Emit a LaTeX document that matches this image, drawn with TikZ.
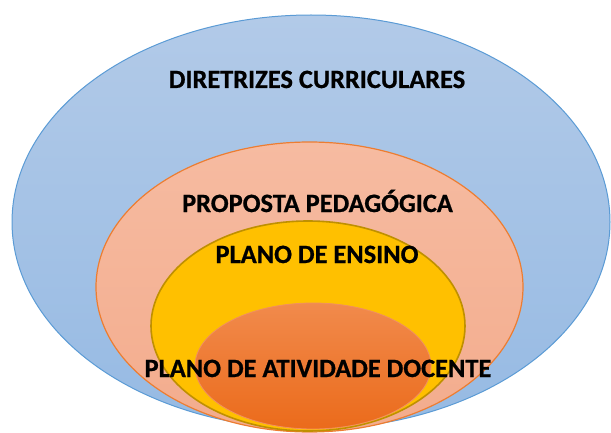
\documentclass[tikz,border=0pt]{standalone}
\usepackage{fontspec}
\setmainfont{Carlito}[BoldFeatures={FakeBold=0.8}]
\definecolor{outerTop}{HTML}{B2CAE8}
\definecolor{outerBot}{HTML}{96BAE3}
\definecolor{outerLine}{HTML}{5B9BD5}
\definecolor{salTop}{HTML}{F6BBA1}
\definecolor{salBot}{HTML}{F3AC8D}
\definecolor{salLine}{HTML}{ED7D31}
\definecolor{yelFill}{HTML}{FFC000}
\definecolor{yelLine}{HTML}{BF9000}
\definecolor{oraTop}{HTML}{F18A4C}
\definecolor{oraBot}{HTML}{EB6B1B}
\definecolor{oraLine}{HTML}{F19060}
\begin{document}
\begin{tikzpicture}[x=1pt,y=1pt,
  lbl/.style={anchor=base, inner sep=0pt, font=\bfseries\fontsize{26.4}{30}\selectfont, text=black}]
\useasboundingbox (0,0) rectangle (611,432);
\clip (0,0) rectangle (611,432);
\shade[top color=outerTop, bottom color=outerBot, draw=outerLine, line width=1pt]
  (311,210) ellipse [x radius=299, y radius=207];
\shade[top color=salTop, bottom color=salBot, draw=salLine, line width=1.2pt]
  (309.5,145) ellipse [x radius=213.5, y radius=145];
\filldraw[fill=yelFill, draw=yelLine, line width=1.6pt]
  (308,106) ellipse [x radius=157, y radius=105];
\shade[top color=oraTop, bottom color=oraBot, draw=oraLine, line width=0.8pt]
  (313,66) ellipse [x radius=118, y radius=63];
\node[lbl] (dir) at (317,344) {DIRETRIZES CURRICULARES};
\node[lbl] (prop) at (317.5,220) {PROPOSTA PEDAGÓGICA};
\node[lbl] (ens) at (317,169) {PLANO DE ENSINO};
\node[lbl] (ativ) at (318,55) {PLANO DE ATIVIDADE DOCENTE};
\end{tikzpicture}
\end{document}
